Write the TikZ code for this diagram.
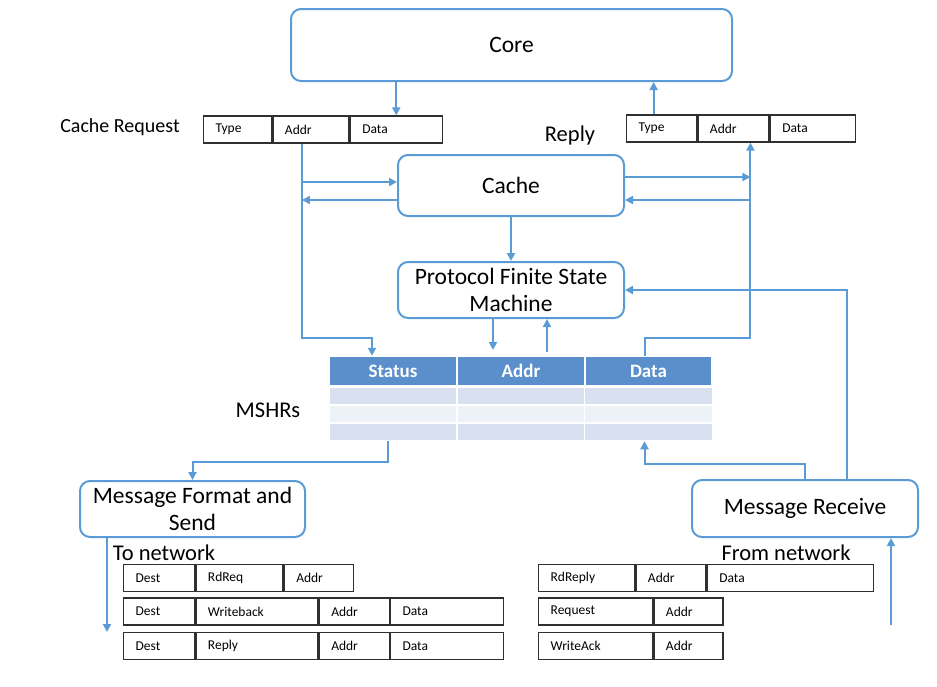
\documentclass[tikz,border=0pt]{standalone}
\usepackage{fontspec}
\setmainfont{Carlito}
\usepackage{tikz}
\usetikzlibrary{arrows.meta,positioning}
\definecolor{lnblue}{HTML}{5B9BD5}
\definecolor{hdrblue}{HTML}{5A8FCB}
\definecolor{rowa}{HTML}{D9E1F0}
\definecolor{rowb}{HTML}{EDF1F8}
\definecolor{fgray}{HTML}{303030}
\tikzset{
    %Define standard arrow tip
    >={Triangle[length=8pt,width=8pt]},
    %Define style for rounded blocks
    blok/.style={
           rectangle,
           rounded corners=10pt,
           draw=lnblue, line width=2pt,
           inner sep=0pt,
           font=\fontsize{23.5}{27}\selectfont,
           align=center},
    %Define style for message fields
    felt/.style={
           rectangle,
           draw=fgray, line width=1.3pt,
           anchor=west,
           minimum height=27pt,
           inner xsep=12pt, inner ysep=0pt,
           text width=#1pt,
           align=left,
           font=\fontsize{13.5}{15}\selectfont},
    cell/.style={
           rectangle,
           draw=white, line width=1.5pt,
           minimum width=128pt,
           minimum height=17pt,
           inner sep=0pt},
    hdr/.style={
           cell,
           minimum height=29pt,
           fill=hdrblue,
           text=white,
           font=\bfseries\fontsize{19}{22}\selectfont},
    lbl/.style={
           inner sep=0pt,
           font=\fontsize{22.5}{26}\selectfont},
    % Define arrow style
    pil/.style={
           ->,
           draw=lnblue,
           line width=2pt}
}
\begin{document}
\begin{tikzpicture}[x=1pt,y=-1pt]
\useasboundingbox (0,0) rectangle (937,686);

 %blocks
\node[blok, minimum width=441pt, minimum height=72pt] (core) at (511.5,45) {Core};
\node[blok, minimum width=226pt, minimum height=61pt] (cache) at (511,185.5) {Cache};
\node[blok, minimum width=226pt, minimum height=56pt] (fsm) at (511,290) {Protocol Finite State\\Machine};
\node[blok, minimum width=225pt, minimum height=56pt] (send) at (192.5,509) {Message Format and\\Send};
\node[blok, minimum width=226pt, minimum height=57pt] (recv) at (805,508.5) {Message Receive};

 %labels
\node[lbl, font=\fontsize{20}{24}\selectfont] (lreq) at (120,127) {Cache Request};
\node[lbl] (lrep) at (570,135) {Reply};
\node[lbl] (lmshr) at (268,410) {MSHRs};
\node[lbl] (lto) at (164,553) {To network};
\node[lbl] (lfrom) at (786,553) {From network};

 %request and reply
\node[felt=44] (rq1) at (203,129.5) {Type};
\node[felt=52, right=0pt of rq1] (rq2) {Addr};
\node[felt=68, right=0pt of rq2] (rq3) {Data};
\node[felt=46] (rp1) at (626,128.5) {Type};
\node[felt=47, right=0pt of rp1] (rp2) {Addr};
\node[felt=61, right=0pt of rp2] (rp3) {Data};

 %MSHR table
\node[hdr] (st) at (393,371) {Status};
\node[hdr] (ad) at (521,371) {Addr};
\node[hdr, minimum width=127pt] (dt) at (648.5,371) {Data};
\foreach \row/\y/\c in {1/396/rowa,2/414/rowb,3/432/rowa}
  \foreach \col/\x in {1/393,2/521,3/648.5}
    \node[cell, fill=\c] (m\row\col) at (\x,\y) {};

 %outgoing messages
\node[felt=47] (s11) at (123,578) {Dest};
\node[felt=63, right=0pt of s11] (s12) {RdReq};
\node[felt=45, right=0pt of s12] (s13) {Addr};
\node[felt=47] (s21) at (123,611.5) {Dest};
\node[felt=98, right=0pt of s21] (s22) {Writeback};
\node[felt=46, right=0pt of s22] (s23) {Addr};
\node[felt=89, right=0pt of s23] (s24) {Data};
\node[felt=47] (s31) at (123,646) {Dest};
\node[felt=98, right=0pt of s31] (s32) {Reply};
\node[felt=46, right=0pt of s32] (s33) {Addr};
\node[felt=89, right=0pt of s33] (s34) {Data};

 %incoming messages
\node[felt=72] (r11) at (538,578) {RdReply};
\node[felt=46, right=0pt of r11] (r12) {Addr};
\node[felt=142, right=0pt of r12] (r13) {Data};
\node[felt=90] (r21) at (538,611.5) {Request};
\node[felt=45, right=0pt of r21] (r22) {Addr};
\node[felt=90] (r31) at (538,646) {WriteAck};
\node[felt=45, right=0pt of r31] (r32) {Addr};

\coordinate (lft) at ([xshift=-9]rq2.south);
\coordinate (rgt) at ([xshift=17]rp2.south);
\coordinate (dtb) at ([xshift=-4]m33.south);
\coordinate (tonet) at (107,632);
\coordinate (fromnet) at (891,625);

 %connections
\draw[pil] (rq3.north |- core.south) -- (rq3.north);
\draw[pil] ([xshift=-8]rp1.north) -- ([xshift=-8]rp1.north |- core.south);
\draw[pil] (lft) |- (372,338) -- ([xshift=-21]st.north);
\draw[pil] (lft |- 0,182) -- (cache.west |- 0,182);
\draw[pil] (cache.west |- 0,200) -- (lft |- 0,200);
\draw[pil] ([xshift=-4]dt.north) |- (rgt |- 0,338) -- (rgt);
\draw[pil] (cache.east |- 0,177) -- (rgt |- 0,177);
\draw[pil] (rgt |- 0,200) -- (cache.east |- 0,200);
\draw[pil] (cache.south) -- (fsm.north);
\draw[pil] ([xshift=-18]fsm.south) -- ([xshift=-18]fsm.south |- 0,350);
\draw[pil] ([xshift=36]fsm.south |- 0,352) -- ([xshift=36]fsm.south);
\draw[pil] ([xshift=-5]m31.south) |- ([yshift=18]send.north) -- (send.north);
\draw[pil] (recv.north) |- ([yshift=-23]dtb) -- (dtb);
\draw[pil] ([xshift=42]recv.north) |- (fsm.east);
\draw[pil] (send.south -| tonet) -- (tonet);
\draw[pil] (fromnet) -- (fromnet |- recv.south);

\end{tikzpicture}
\end{document}
